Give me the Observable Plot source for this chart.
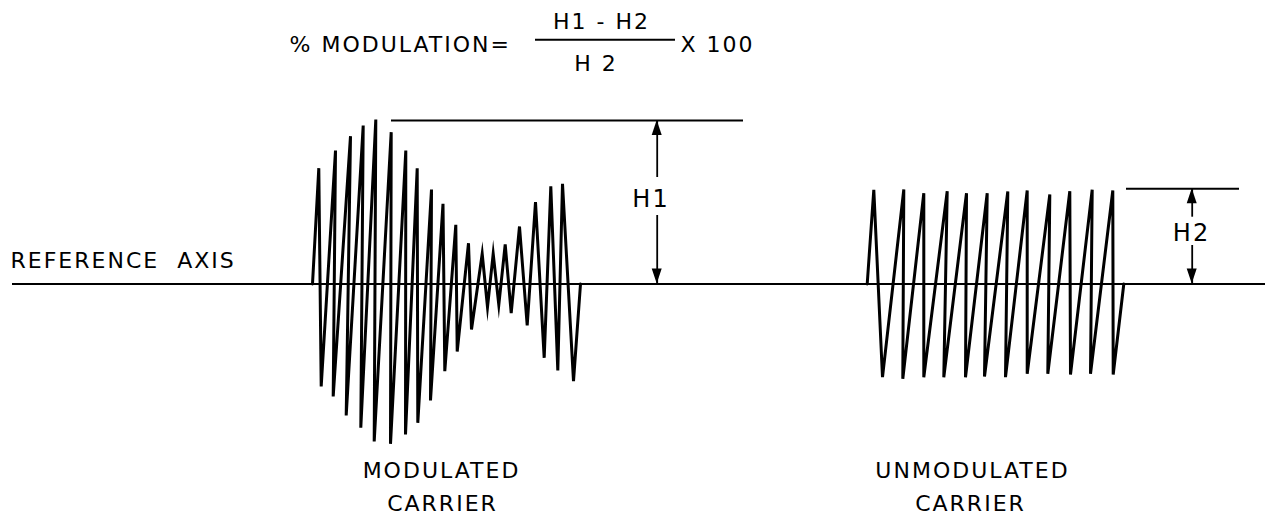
<!DOCTYPE html>
<html>
<head>
<meta charset="utf-8">
<script src="https://cdn.jsdelivr.net/npm/d3@7"></script>
<script src="https://cdn.jsdelivr.net/npm/@observablehq/plot@0.6"></script>
<style>
  html, body { margin: 0; padding: 0; background: #fff; }
  #chart svg text { letter-spacing: 2px; }
</style>
</head>
<body>
<div id="chart"></div>
<script>
// Time positions and amplitudes (relative to the reference axis)
const modT = [312, 318.3, 320.7, 335, 332.7, 350, 345.7, 362.7, 360.3, 375.3, 373.7, 390.7, 390, 405.3, 405, 416.7, 417.3, 431, 430, 442.5, 444.3, 455.3, 456.7, 468, 471, 481.7, 487, 492.7, 498.3, 504.7, 510.7, 519, 526.7, 535, 543.7, 550.3, 557.3, 562, 573, 580];
const modA = [0, 115.8, -102.5, 133.5, -112.5, 147.8, -131.5, 158.5, -143.8, 164.5, -157.5, 151.8, -159.8, 133.5, -150.5, 115.8, -138.8, 94.5, -116.5, 80.2, -87.2, 59.2, -67.5, 40.8, -45.5, 30.2, -23.2, 30.2, -20.8, 39.5, -29.2, 57.5, -41.5, 81.8, -73.8, 97.8, -86.5, 100.2, -97.2, 0];

const unmodT = [866.7, 873.3, 882, 903.3, 902.3, 923.3, 923.3, 946.7, 943.3, 966, 965, 986.7, 984, 1007.3, 1005, 1026.7, 1026.7, 1049.3, 1047.3, 1069.3, 1070, 1091.7, 1090, 1112.3, 1112.7, 1123.3];
const unmodA = [0, 94.2, -93.2, 94.5, -94.8, 90.8, -93.2, 92.8, -93.2, 90.8, -93.2, 90.8, -92.5, 92.5, -93.2, 93.5, -89.8, 89.5, -89.8, 92.8, -90.5, 94.2, -89.8, 93.5, -90.5, 0];

// Reference axis and height markers
const axisSpan = [12, 1265];
const h1Level = 163.5, h1Span = [391, 743], h1ArrowT = 656.7, h1Gap = [106.5, 68.5];
const h2Level = 95.2, h2Span = [1126, 1239], h2ArrowT = 1191.7, h2Gap = [66.8, 38.5];

// Formula pieces
const fracBar = {t1: 535, t2: 675, a: 244.2};

// Labels
const labelText = ["% MODULATION=", "H1 - H2", "H 2", "X 100", "REFERENCE  AXIS", "H1", "H2", "MODULATED", "CARRIER", "UNMODULATED", "CARRIER"];
const labelT    = [289, 601, 595.5, 680, 10, 650.5, 1191, 441, 442, 972, 970];
const labelA    = [232.5, 255.5, 213.5, 232.5, 16.5, 77.5, 43.5, -193.5, -226.5, -193.5, -226.5];
const labelAnchor = ["start", "middle", "middle", "start", "start", "middle", "middle", "middle", "middle", "middle", "middle"];
const labelSize = [22, 22, 22, 22, 22, 24, 24, 22, 22, 22, 22];

const mod = modT.map((t, i) => ({t, a: modA[i]}));
const unmod = unmodT.map((t, i) => ({t, a: unmodA[i]}));
const labels = labelText.map((s, i) => ({s, t: labelT[i], a: labelA[i], anchor: labelAnchor[i], size: labelSize[i]}));

// arrow shafts: [t, from, to]
const shafts = [
  {t: h1ArrowT, a1: h1Level, a2: h1Gap[0]},
  {t: h1ArrowT, a1: h1Gap[1], a2: 0},
  {t: h2ArrowT, a1: h2Level, a2: h2Gap[0]},
  {t: h2ArrowT, a1: h2Gap[1], a2: 0}
];
// filled arrowheads (triangles) built from tip + direction
const headLen = 15, headHalf = 5;
function head(t, tip, dir, id) {
  return [
    {id, t: t - headHalf, lo: tip - dir * headLen, hi: tip - dir * headLen},
    {id, t: t, lo: tip - dir * headLen, hi: tip},
    {id, t: t + headHalf, lo: tip - dir * headLen, hi: tip - dir * headLen}
  ];
}
const heads = [
  ...head(h1ArrowT, h1Level, 1, "h1top"),
  ...head(h1ArrowT, 0, -1, "h1bot"),
  ...head(h2ArrowT, h2Level, 1, "h2top"),
  ...head(h2ArrowT, 0, -1, "h2bot")
];

const font = "DejaVu Sans, sans-serif";

const chart = Plot.plot({
  width: 1277,
  height: 515,
  margin: 0,
  style: {background: "#fff", fontFamily: font, color: "#000"},
  x: {domain: [0, 1277], range: [0, 1277], axis: null},
  y: {domain: [-231.5, 283.5], range: [515, 0], axis: null},
  marks: [
    Plot.ruleY([0], {x1: axisSpan[0], x2: axisSpan[1], stroke: "#000", strokeWidth: 2.2}),
    Plot.ruleY([h1Level], {x1: h1Span[0], x2: h1Span[1], stroke: "#000", strokeWidth: 2}),
    Plot.ruleY([h2Level], {x1: h2Span[0], x2: h2Span[1], stroke: "#000", strokeWidth: 2}),
    Plot.line(mod, {x: "t", y: "a", stroke: "#000", strokeWidth: 3, strokeLinejoin: "miter", strokeMiterlimit: 10}),
    Plot.line(unmod, {x: "t", y: "a", stroke: "#000", strokeWidth: 3, strokeLinejoin: "miter", strokeMiterlimit: 10}),
    Plot.ruleX(shafts, {x: "t", y1: "a1", y2: "a2", stroke: "#000", strokeWidth: 1.8}),
    Plot.areaY(heads, {x: "t", y1: "lo", y2: "hi", z: "id", fill: "#000", curve: "linear"}),
    Plot.ruleY([fracBar.a], {x1: fracBar.t1, x2: fracBar.t2, stroke: "#000", strokeWidth: 2}),
    Plot.text(labels.filter(d => d.anchor === "start"), {x: "t", y: "a", text: "s", textAnchor: "start", fontSize: "size", lineAnchor: "bottom", fill: "#000"}),
    Plot.text(labels.filter(d => d.anchor === "middle"), {x: "t", y: "a", text: "s", textAnchor: "middle", fontSize: "size", lineAnchor: "bottom", fill: "#000"})
  ]
});
document.getElementById("chart").appendChild(chart);
</script>
</body>
</html>
